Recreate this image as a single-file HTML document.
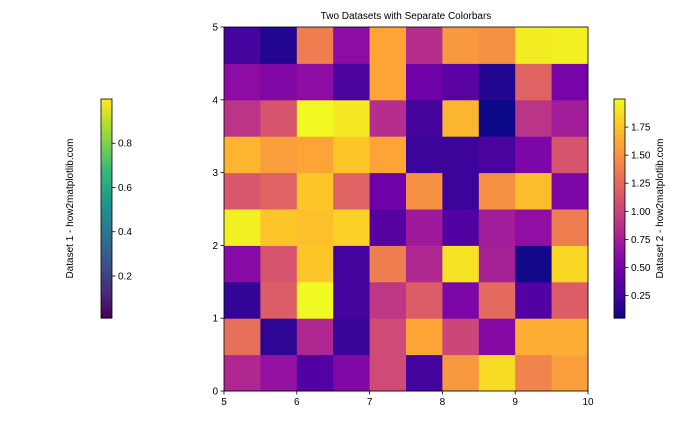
<!DOCTYPE html>
<html><head><meta charset="utf-8"><style>
body{margin:0;background:#fff;font-family:"Liberation Sans","DejaVu Sans",sans-serif}
svg text{font-family:"Liberation Sans","DejaVu Sans",sans-serif;font-size:10px;fill:#000}
</style></head><body>
<svg id="c" width="700" height="420"></svg>
<script>
const xTicks=[5,6,7,8,9,10];
const yTicks=[0,1,2,3,4,5];
const cb1Ticks=[0.2,0.4,0.6,0.8];
const cb2Ticks=[0.25,0.5,0.75,1.0,1.25,1.5,1.75];
// rows from y=0 (bottom) upward, data on 0..2 scale
const row0=[0.8,0.64,0.3,0.54,1.04,0.24,1.52,1.86,1.4,1.56];
const row1=[1.28,0.14,0.8,0.18,1.04,1.6,1.0,0.56,1.64,1.64];
const row2=[0.16,1.16,2.0,0.24,0.9,1.16,0.52,1.24,0.3,1.16];
const row3=[0.58,1.1,1.76,0.24,1.36,0.8,1.9,0.74,0.04,1.84];
const row4=[1.96,1.76,1.74,1.82,0.32,0.7,0.3,0.72,0.62,1.36];
const row5=[1.12,1.2,1.76,1.2,0.44,1.48,0.2,1.48,1.72,0.52];
const row6=[1.68,1.56,1.6,1.76,1.6,0.2,0.2,0.26,0.52,1.1];
const row7=[0.88,1.1,2.0,1.92,0.84,0.24,1.68,0.02,0.88,0.72];
const row8=[0.6,0.54,0.6,0.26,1.6,0.44,0.34,0.1,1.2,0.48];
const row9=[0.24,0.1,1.36,0.6,1.6,0.84,1.52,1.48,1.94,1.96];
const rows=[row0,row1,row2,row3,row4,row5,row6,row7,row8,row9];
const vmin=0.02,vmax=2.0;

const plasma=["#0d0887","#41049d","#6a00a8","#8f0da4","#b12a90","#cc4778","#e16462","#f2844b","#fca636","#fcce25","#f0f921"];
const viridis=["#440154","#482878","#3e4989","#31688e","#26828e","#1f9e89","#35b779","#6ece58","#b5de2b","#fde725"];
function hx(h){return[parseInt(h.substr(1,2),16),parseInt(h.substr(3,2),16),parseInt(h.substr(5,2),16)];}
function cmap(stops,t){t=Math.max(0,Math.min(1,t));const n=stops.length-1;const i=Math.min(n-1,Math.floor(t*n));const f=t*n-i;const a=hx(stops[i]),b=hx(stops[i+1]);return"rgb("+a.map((v,k)=>Math.round(v+(b[k]-v)*f)).join(",")+")";}

const L=224,R=588,T=27,B=391;
const xs=v=>L+(v-5)/5*(R-L);
const ys=v=>B-(v)/5*(B-T);
const svg=document.getElementById('c');const NS="http://www.w3.org/2000/svg";
function el(t,a,p){const e=document.createElementNS(NS,t);for(const k in a)e.setAttribute(k,a[k]);(p||svg).appendChild(e);return e;}

const t=el('text',{x:406,y:19,'text-anchor':'middle','font-size':12});t.textContent="Two Datasets with Separate Colorbars";



const g=el('g',{});


rows.forEach((r,j)=>r.forEach((v,i)=>{
  const x0=xs(5+i*0.5),x1=xs(5.5+i*0.5),y0=ys(j*0.5+0.5),y1=ys(j*0.5);
  const c=el('rect',{x:x0,y:y0,width:x1-x0+0.5,height:y1-y0+0.5,fill:cmap(plasma,(v-vmin)/(vmax-vmin))},g);
  
  
}));
const fr=el('rect',{x:L,y:T,width:R-L,height:B-T,fill:'none',stroke:'#000','stroke-width':0.8});


xTicks.forEach(v=>{el('line',{x1:xs(v),x2:xs(v),y1:B,y2:B+3.5,stroke:'#000','stroke-width':0.8});
  const l=el('text',{x:xs(v),y:B+14,'text-anchor':'middle'});l.textContent=v;
  
  });
yTicks.forEach(v=>{el('line',{x1:L-3.5,x2:L,y1:ys(v),y2:ys(v),stroke:'#000','stroke-width':0.8});
  const l=el('text',{x:L-6,y:ys(v)+3.5,'text-anchor':'end'});l.textContent=v;
  
  });

function colorbar(x,stops,lo,hi,ticks,label,lx,name){
  const top=99,bot=318,w=11;
  const gg=el('g',{});
  
  
  for(let k=0;k<100;k++){const y0=bot-(k+1)/100*(bot-top);el('rect',{x:x,y:y0,width:w,height:(bot-top)/100+0.6,fill:cmap(stops,(k+0.5)/100)},gg);}
  el('rect',{x:x,y:top,width:w,height:bot-top,fill:'none',stroke:'#000','stroke-width':0.8},gg);
  const fmt=ticks[0]===0.2?(v=>v.toFixed(1)):(v=>v.toFixed(2));
  ticks.forEach(v=>{const y=bot-(v-lo)/(hi-lo)*(bot-top);el('line',{x1:x+w,x2:x+w+3.5,y1:y,y2:y,stroke:'#000','stroke-width':0.8},gg);
    const l=el('text',{x:x+w+6,y:y+3.5},gg);l.textContent=fmt(v);
    
    });
  const lb=el('text',{x:lx,y:(top+bot)/2,'text-anchor':'middle',transform:`rotate(-90 ${lx} ${(top+bot)/2})`},gg);lb.textContent=label;
  
  
}
colorbar(101,viridis,0.01,1.0,cb1Ticks,"Dataset 1 - how2matplotlib.com",73,'colorbar-dataset-1');
colorbar(614,plasma,0.05,2.0,cb2Ticks,"Dataset 2 - how2matplotlib.com",663,'colorbar-dataset-2');
</script>
</body></html>
